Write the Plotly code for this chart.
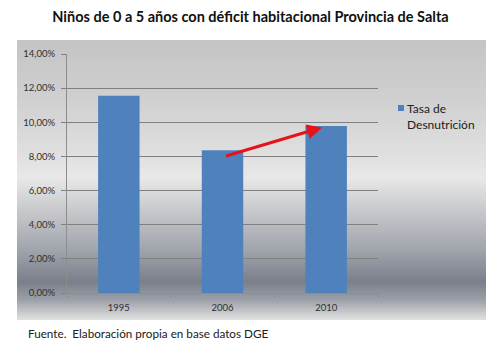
import plotly.graph_objects as go

categories = ["1995", "2006", "2010"]
tasa = [11.55, 8.36, 9.78]
ytick_vals = [0, 2, 4, 6, 8, 10, 12, 14]
ytick_text = ["0,00%", "2,00%", "4,00%", "6,00%", "8,00%", "10,00%", "12,00%", "14,00%"]
arrow_start = (1.02, 8.0)
arrow_end = (1.96, 9.7)

W, H = 501, 362
ml, mr, mt, mb = 67, 123, 54, 69

fig = go.Figure()
fig.add_trace(go.Bar(x=categories, y=tasa, name="Tasa de<br>Desnutrición",
                     marker=dict(color="#4f81bd", line=dict(width=0)), width=0.4,
                     showlegend=False))

# gradient background for chart area (paper coordinates)
stops = [(40, (196, 196, 196)), (100, (208, 208, 208)), (150, (222, 222, 222)),
         (178, (232, 232, 232)), (210, (200, 201, 204)), (250, (160, 164, 172)),
         (282, (122, 127, 138)), (300, (156, 160, 168)), (320, (226, 226, 226))]

def col(y):
    for (y0, c0), (y1, c1) in zip(stops[:-1], stops[1:]):
        if y0 <= y <= y1:
            t = (y - y0) / (y1 - y0)
            return "rgb(%d,%d,%d)" % tuple(round(a + (b - a) * t) for a, b in zip(c0, c1))
    return "rgb(226,226,226)"

PW, PH = W - ml - mr, H - mt - mb
def px(x):
    return (x - ml) / PW
def py(y):
    return (H - mb - y) / PH

shapes = []
x0p, x1p = 17, 486
step = 2
y = 40
while y < 320:
    yb = min(y + step, 320)
    shapes.append(dict(type="rect", xref="paper", yref="paper", layer="below",
                       x0=px(x0p), x1=px(x1p), y0=py(yb), y1=py(y),
                       fillcolor=col(y + step / 2), line=dict(width=0)))
    y = yb

# legend-like marker
shapes.append(dict(type="rect", xref="paper", yref="paper",
                   x0=px(398), x1=px(404), y0=py(111), y1=py(105),
                   fillcolor="#4f81bd", line=dict(width=0)))

annotations = [
    dict(text="Tasa de<br>Desnutrición", xref="paper", yref="paper",
         x=px(405), y=py(99), xanchor="left", yanchor="top", showarrow=False, align="left",
         font=dict(family="Lato, sans-serif", size=12, color="#202020")),
    dict(text="Fuente.  Elaboración propia en base datos DGE", xref="paper", yref="paper",
         x=px(26), y=py(333), xanchor="left", yanchor="middle", showarrow=False,
         font=dict(family="Lato, sans-serif", size=11.7, color="#202020")),
    dict(x=arrow_end[0], y=arrow_end[1], ax=arrow_start[0], ay=arrow_start[1],
         xref="x", yref="y", axref="x", ayref="y", showarrow=True,
         arrowhead=2, arrowsize=1.0, arrowwidth=3, arrowcolor="#e8121a", text=""),
]

fig.update_layout(
    width=W, height=H,
    margin=dict(l=ml, r=mr, t=mt, b=mb),
    paper_bgcolor="white", plot_bgcolor="rgba(0,0,0,0)",
    title=dict(text="<b>Niños de 0 a 5 años con déficit habitacional Provincia de Salta</b>",
               x=0.5, xanchor="center", y=1 - 17 / H, yanchor="middle",
               font=dict(family="Lato, sans-serif", size=14.5, color="#101010")),
    shapes=shapes, annotations=annotations,
    xaxis=dict(showgrid=False, showline=True, linecolor="#8c8c8c", linewidth=1,
               ticks="outside", ticklen=4, tickcolor="#8c8c8c", tickson="boundaries",
               ticklabelstandoff=6,
               tickfont=dict(family="Lato, sans-serif", size=9.5, color="#303030"),
               fixedrange=True),
    yaxis=dict(range=[0, 14], tickvals=ytick_vals, ticktext=ytick_text,
               showgrid=True, gridcolor="#808080", gridwidth=1,
               showline=True, linecolor="#8c8c8c", linewidth=1,
               ticks="outside", ticklen=5, tickcolor="#808080", zeroline=False,
               ticklabelstandoff=4,
               tickfont=dict(family="Lato, sans-serif", size=9.5, color="#303030"),
               fixedrange=True),
    showlegend=False,
)

fig.write_html("out.html", post_script="document.body.style.margin='0';",
               config={"displayModeBar": False, "staticPlot": True})
